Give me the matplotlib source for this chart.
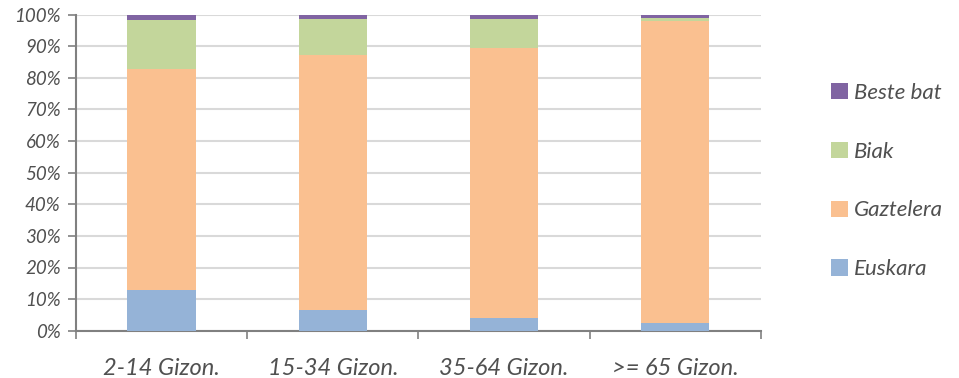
import matplotlib
matplotlib.use("Agg")
import matplotlib.pyplot as plt
from matplotlib.patches import Patch
import numpy as np

# data (percent)
categories = ["2-14 Gizon.", "15-34 Gizon.", "35-64 Gizon.", ">= 65 Gizon."]
euskara = [13.0, 6.7, 4.0, 2.5]
gaztelera = [69.7, 80.6, 85.5, 95.6]
biak = [15.5, 11.4, 9.2, 0.8]
beste_bat = [1.8, 1.3, 1.3, 1.1]

series = [
    ("Euskara", euskara, "#95B3D7"),
    ("Gaztelera", gaztelera, "#FAC090"),
    ("Biak", biak, "#C3D69B"),
    ("Beste bat", beste_bat, "#8064A2"),
]

plt.rcParams['font.family'] = ['Lato', 'DejaVu Sans']
text_color = "#505050"

fig = plt.figure(figsize=(9.59, 3.78), dpi=100)
ax = fig.add_axes([76 / 959, 1 - 330.7 / 378, (760.7 - 76) / 959, (330.7 - 14.7) / 378])

x = np.arange(len(categories))
bottom = np.zeros(len(categories))
for name, vals, color in series:
    ax.bar(x, vals, width=0.40, bottom=bottom, color=color, zorder=3, label=name)
    bottom += np.array(vals)

ax.set_xlim(-0.5, len(categories) - 0.5)
ax.set_ylim(0, 100)
ax.set_yticks(np.arange(0, 101, 10))
ax.set_yticklabels([f"{v}%" for v in range(0, 101, 10)])
ax.yaxis.grid(True, color="#D9D9D9", linewidth=1.5, zorder=0)

ax.set_xticks(x)
ax.set_xticklabels(categories)
ax.set_xticks(np.arange(-0.5, len(categories)), minor=True)
ax.tick_params(axis="x", which="major", length=0, pad=20, labelsize=17, labelcolor=text_color)
ax.tick_params(axis="x", which="minor", length=6, width=1.2, color="#808080", direction="out")
ax.tick_params(axis="y", length=6, width=1.2, color="#808080", labelsize=13.5, labelcolor=text_color, pad=5)

for lbl in ax.get_xticklabels() + ax.get_yticklabels():
    lbl.set_fontstyle("italic")

for side in ["top", "right"]:
    ax.spines[side].set_visible(False)
for side in ["left", "bottom"]:
    ax.spines[side].set_color("#808080")
    ax.spines[side].set_linewidth(1.5)

handles = [Patch(facecolor=c, label=n) for n, _, c in series][::-1]
leg = fig.legend(handles=handles, loc="center left", bbox_to_anchor=(831 / 959, 1 - 181 / 378),
                 frameon=False, borderpad=0, borderaxespad=0,
                 handlelength=0.75, handleheight=0.75,
                 handletextpad=0.3, labelspacing=1.75, prop={"style": "italic", "size": 16})
for t in leg.get_texts():
    t.set_color(text_color)

fig.savefig("out.png", dpi=100)
